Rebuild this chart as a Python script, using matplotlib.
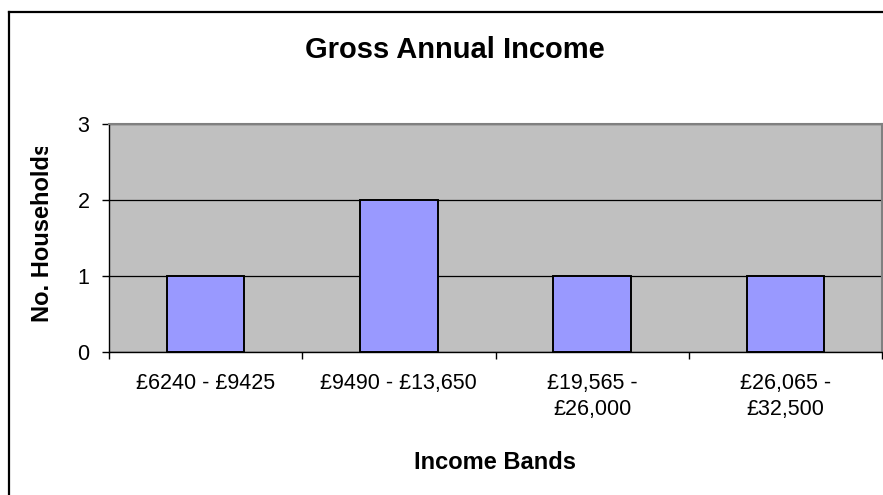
import matplotlib.pyplot as plt
from matplotlib.lines import Line2D
from matplotlib.transforms import Bbox, TransformedBbox

# Data
income_bands = ['£6240 - £9425', '£9490 - £13,650', '£19,565 -\n£26,000', '£26,065 -\n£32,500']
households = [1, 2, 1, 1]
y_ticks = [0, 1, 2, 3]

W, H = 883, 495
plt.rcParams['font.family'] = ['Liberation Sans', 'DejaVu Sans']

fig = plt.figure(figsize=(W / 100, H / 100), dpi=100)
ax = fig.add_axes([109 / W, (H - 352) / H, 773 / W, 228 / H])

positions = list(range(len(income_bands)))
ax.bar(positions, households, width=0.4, color='#9999FF', edgecolor='black', linewidth=1.4, zorder=3)

ax.set_facecolor('#C0C0C0')
ax.set_xlim(-0.5, len(income_bands) - 0.5)
ax.set_ylim(0, 3)

# gridlines at whole numbers
ax.set_yticks(y_ticks)
ax.yaxis.grid(True, color='black', linewidth=0.9, zorder=1)
ax.set_axisbelow(True)

# category boundary ticks, labels in the middle
ax.set_xticks([p - 0.5 for p in positions] + [len(income_bands) - 0.5])
ax.set_xticklabels([])
ax.set_xticks(positions, minor=True)
ax.set_xticklabels(income_bands, minor=True, fontsize=15.5, linespacing=1.35)
ax.tick_params(axis='x', which='major', direction='out', length=5, width=1, color='black')
ax.tick_params(axis='x', which='minor', length=0, pad=15)
ax.tick_params(axis='y', direction='out', length=5, width=1, pad=9, labelsize=15.5)

for side in ['top', 'right']:
    ax.spines[side].set_color('#808080')
    ax.spines[side].set_linewidth(1.5)
for side in ['left', 'bottom']:
    ax.spines[side].set_color('black')
    ax.spines[side].set_linewidth(1)

fig.text(455 / W, (H - 58) / H, 'Gross Annual Income', ha='center', va='baseline',
         fontsize=21, fontweight='bold')
fig.text(495 / W, (H - 469) / H, 'Income Bands', ha='center', va='baseline',
         fontsize=17, fontweight='bold')

# y label is cut off at the top in the original
ylab = fig.text(54 / W, (H - 322) / H, 'No. Households', rotation=90, ha='right', va='bottom',
                fontsize=17, fontweight='bold')
ylab.set_clip_box(TransformedBbox(Bbox.from_extents(0, 0, 1, (H - 147) / H), fig.transFigure))
ylab.set_clip_on(True)

# outer chart border (left and top visible)
fig.add_artist(Line2D([9 / W, 9 / W], [0, (H - 12) / H], color='black', linewidth=1.6,
                      transform=fig.transFigure))
fig.add_artist(Line2D([9 / W, 1.01], [(H - 12) / H, (H - 12) / H], color='black', linewidth=1.6,
                      transform=fig.transFigure))

plt.savefig('out.png', dpi=100)
